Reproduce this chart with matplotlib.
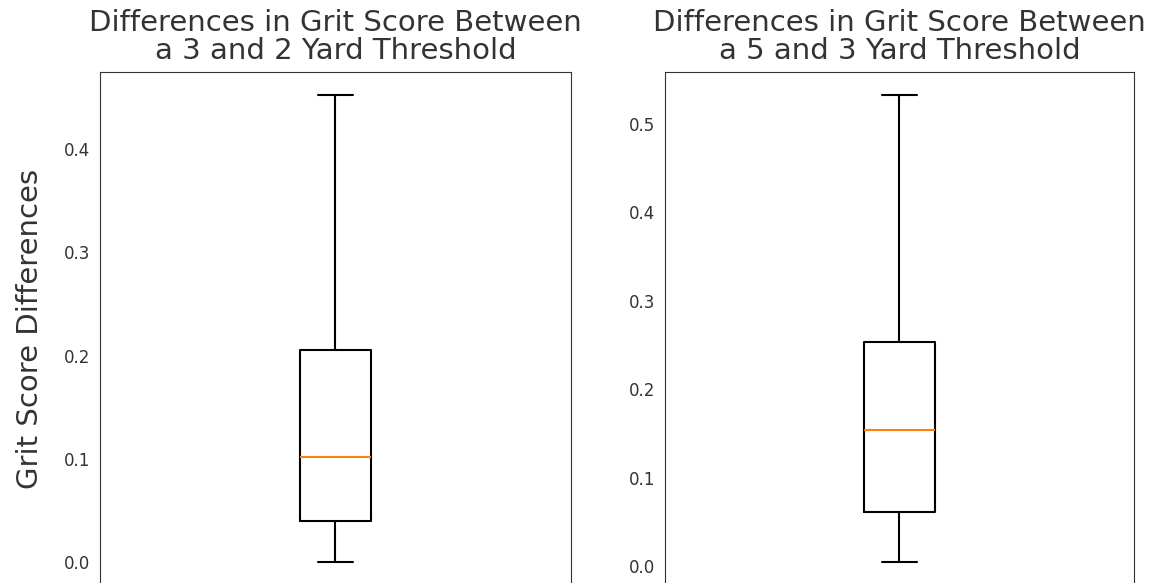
import matplotlib
matplotlib.use("Agg")
import matplotlib.pyplot as plt
import seaborn as sns

sns.set_style("white")

# five-number summaries of the grit score differences
titles = ["Differences in Grit Score Between\na 3 and 2 Yard Threshold",
          "Differences in Grit Score Between\na 5 and 3 Yard Threshold"]
whislo = [0.0, 0.005]
q1 = [0.040, 0.062]
med = [0.102, 0.154]
q3 = [0.205, 0.254]
whishi = [0.452, 0.532]

fig = plt.figure(figsize=(11.57, 5.83), dpi=100)
ax1 = fig.add_axes([0.0864, -0.004, 0.407, 0.8805])
ax2 = fig.add_axes([0.5748, -0.004, 0.4052, 0.8805])

for i, ax in enumerate((ax1, ax2)):
    stats = [dict(whislo=whislo[i], q1=q1[i], med=med[i], q3=q3[i],
                  whishi=whishi[i], fliers=[])]
    ax.bxp(stats, positions=[1], widths=0.15, showfliers=False,
           boxprops=dict(color="black", lw=1.5),
           whiskerprops=dict(color="black", lw=1.5),
           capprops=dict(color="black", lw=1.5),
           medianprops=dict(color="#ff7f0e", lw=1.5))
    ax.set_xlim(0.5, 1.5)
    ax.margins(y=0.05)
    ax.set_xticks([])
    ax.tick_params(axis="y", labelsize=12, colors=".2")
    ax.set_title(titles[i], fontsize=21, color=".2", linespacing=1.0, pad=9.5)
    for s in ax.spines.values():
        s.set_color(".2")

ax1.set_ylabel("Grit Score Differences", fontsize=21, color=".2", labelpad=14)

fig.savefig("out.png", dpi=100)
